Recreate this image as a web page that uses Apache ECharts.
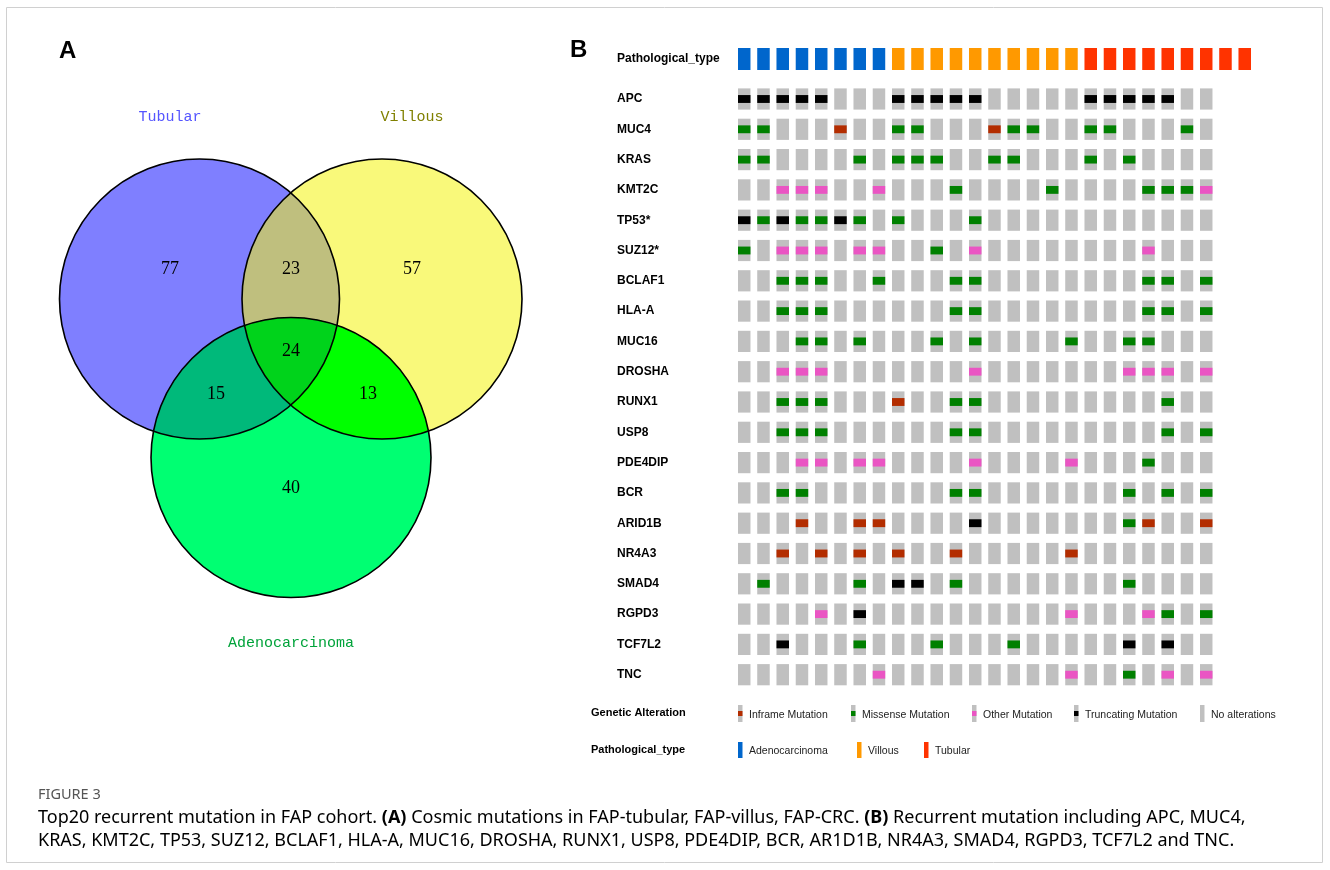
<!DOCTYPE html>
<html>
<head>
<meta charset="utf-8">
<script src="https://cdn.jsdelivr.net/npm/echarts@6/dist/echarts.min.js"></script>
<style>
html, body { margin: 0; padding: 0; background: #fff; }
#main { width: 1330px; height: 870px; }
</style>
</head>
<body>
<div id="main"></div>
<script>
// ---- panel A : venn counts ----
var vennSets = ['Tubular', 'Villous', 'Adenocarcinoma'];
var vennMasks = ['100', '010', '001', '110', '101', '011', '111'];   // membership in the 3 sets
var vennCounts = [77, 57, 40, 23, 15, 13, 24];

// ---- panel B : oncoprint ----
var genes = ['APC', 'MUC4', 'KRAS', 'KMT2C', 'TP53*', 'SUZ12*', 'BCLAF1', 'HLA-A', 'MUC16', 'DROSHA',
	'RUNX1', 'USP8', 'PDE4DIP', 'BCR', 'ARID1B', 'NR4A3', 'SMAD4', 'RGPD3', 'TCF7L2', 'TNC'];
// I inframe, M missense, O other, T truncating, . no alteration (one char per sample)
var geneAlterations = [
	'TTTTT...TTTTT.....TTTTT..',	// APC
	'MM...I..MM...IMM..MM...M.',	// MUC4
	'MM....M.MMM..MM...M.M....',	// KRAS
	'..OOO..O...M....M....MMMO',	// KMT2C
	'TMTMMTM.M...M............',	// TP53
	'M.OOO.OO..M.O........O...',	// SUZ12
	'..MMM..M...MM........MM.M',	// BCLAF1
	'..MMM......MM........MM.M',	// HLA-A
	'...MM.M...M.M....M..MM...',	// MUC16
	'..OOO.......O.......OOO.O',	// DROSHA
	'..MMM...I..MM.........M..',	// RUNX1
	'..MMM......MM.........M.M',	// USP8
	'...OO.OO....O....O...M...',	// PDE4DIP
	'..MM.......MM.......M.M.M',	// BCR
	'...I..II....T.......MI..I',	// ARID1B
	'..I.I.I.I..I.....I.......',	// NR4A3
	'.M....M.TT.M........M....',	// SMAD4
	'....O.T..........O...OM.M',	// RGPD3
	'..T...M...M...M.....T.T..',	// TCF7L2
	'.......O.........O..M.O.O'		// TNC
];
// A adenocarcinoma, V villous, T tubular
var pathTypeCodes = 'AAAAAAAAVVVVVVVVVVTTTTTTTTT';

var altCodes = ['I', 'M', 'O', 'T', '.'];
var altNames = ['Inframe Mutation', 'Missense Mutation', 'Other Mutation', 'Truncating Mutation', 'No alterations'];
var altColors = ['#b32d00', '#008000', '#ea55c3', '#000000', null];
var pathCodes = ['A', 'V', 'T'];
var pathNames = ['Adenocarcinoma', 'Villous', 'Tubular'];
var pathColors = ['#0066cc', '#ff9900', '#ff3300'];

var chart = echarts.init(document.getElementById('main'));

// ---------- venn geometry ----------
var vennLayout = {
	circles: [{ x: 199.5, y: 299, r: 140 }, { x: 382, y: 299, r: 140 }, { x: 291, y: 457.5, r: 140 }],
	setLabelPos: [[170, 117], [412, 117], [291, 643]],
	setLabelColor: ['#5555ff', '#808000', '#00a33a'],
	countPos: { '100': [170, 269], '010': [412, 269], '001': [291, 488], '110': [291, 269], '101': [216, 394], '011': [368, 394], '111': [291, 351] },
	fill: { '100': '#7f7fff', '010': '#f9f97a', '001': '#00ff72', '110': '#bfbf7e', '101': '#00b97a', '011': '#00ff00', '111': '#00d31b' }
};

function circlePts(c) {
	var pts = [];
	for (var i = 0; i < 240; i++) {
		var t = i / 240 * Math.PI * 2;
		pts.push([c.x + c.r * Math.cos(t), c.y + c.r * Math.sin(t)]);
	}
	return pts;
}
function crossAt(s, e, a, b) {
	var dx1 = e[0] - s[0], dy1 = e[1] - s[1], dx2 = b[0] - a[0], dy2 = b[1] - a[1];
	var t = ((a[0] - s[0]) * dy2 - (a[1] - s[1]) * dx2) / (dx1 * dy2 - dy1 * dx2);
	return [s[0] + t * dx1, s[1] + t * dy1];
}
// clip convex polygon by convex polygon
function clipPoly(subject, clipper) {
	var out = subject;
	for (var i = 0; i < clipper.length && out.length; i++) {
		var a = clipper[i], b = clipper[(i + 1) % clipper.length];
		var inside = function (p) { return (b[0] - a[0]) * (p[1] - a[1]) - (b[1] - a[1]) * (p[0] - a[0]) >= 0; };
		var inp = out; out = [];
		var s = inp[inp.length - 1];
		for (var j = 0; j < inp.length; j++) {
			var e = inp[j];
			if (inside(e)) {
				if (!inside(s)) out.push(crossAt(s, e, a, b));
				out.push(e);
			} else if (inside(s)) {
				out.push(crossAt(s, e, a, b));
			}
			s = e;
		}
	}
	return out;
}

var graphics = [];
var polys = vennLayout.circles.map(circlePts);
// single sets first, then overlaps painted on top
var drawOrder = ['100', '010', '001', '110', '101', '011', '111'];
drawOrder.forEach(function (mask) {
	var pts = null;
	for (var k = 0; k < 3; k++) {
		if (mask[k] === '1') pts = pts ? clipPoly(pts, polys[k]) : polys[k];
	}
	graphics.push({ type: 'polygon', shape: { points: pts }, style: { fill: vennLayout.fill[mask] }, silent: true });
});
vennLayout.circles.forEach(function (c) {
	graphics.push({ type: 'circle', shape: { cx: c.x, cy: c.y, r: c.r }, style: { fill: null, stroke: '#000', lineWidth: 1.6 }, silent: true });
});
vennMasks.forEach(function (mask, i) {
	var p = vennLayout.countPos[mask];
	graphics.push({ type: 'text', x: p[0], y: p[1], style: { text: String(vennCounts[i]), fill: '#000', font: '18px "Liberation Serif"', align: 'center', verticalAlign: 'middle' } });
});
vennSets.forEach(function (name, i) {
	var p = vennLayout.setLabelPos[i];
	graphics.push({ type: 'text', x: p[0], y: p[1], style: { text: name, fill: vennLayout.setLabelColor[i], font: '15px "Liberation Mono"', align: 'center', verticalAlign: 'middle' } });
});

// panel letters
graphics.push({ type: 'text', x: 59, y: 51, style: { text: 'A', fill: '#000', font: 'bold 24px "Liberation Sans"', verticalAlign: 'middle' } });
graphics.push({ type: 'text', x: 570, y: 50, style: { text: 'B', fill: '#000', font: 'bold 24px "Liberation Sans"', verticalAlign: 'middle' } });

// legends of panel B
graphics.push({ type: 'text', x: 591, y: 713, style: { text: 'Genetic Alteration', fill: '#000', font: 'bold 11px "Liberation Sans"', verticalAlign: 'middle' } });
graphics.push({ type: 'text', x: 591, y: 750, style: { text: 'Pathological_type', fill: '#000', font: 'bold 11px "Liberation Sans"', verticalAlign: 'middle' } });
var altLegendX = [738, 851, 972, 1074, 1200];
altNames.forEach(function (name, i) {
	var x = altLegendX[i];
	graphics.push({ type: 'rect', shape: { x: x, y: 705, width: 4.5, height: 17 }, style: { fill: '#c0c0c0' } });
	if (altColors[i]) graphics.push({ type: 'rect', shape: { x: x, y: 711, width: 4.5, height: 5 }, style: { fill: altColors[i] } });
	graphics.push({ type: 'text', x: x + 11, y: 715, style: { text: name, fill: '#222', font: '10.5px "Liberation Sans"', verticalAlign: 'middle' } });
});
var pathLegendX = [738, 857, 924];
pathNames.forEach(function (name, i) {
	var x = pathLegendX[i];
	graphics.push({ type: 'rect', shape: { x: x, y: 742, width: 4.5, height: 16 }, style: { fill: pathColors[i] } });
	graphics.push({ type: 'text', x: x + 11, y: 751, style: { text: name, fill: '#222', font: '10.5px "Liberation Sans"', verticalAlign: 'middle' } });
});

// frame + caption
graphics.push({ type: 'rect', shape: { x: 6.5, y: 7.5, width: 1316, height: 855 }, style: { fill: null, stroke: '#d0d0d0', lineWidth: 1 }, silent: true });
graphics.push({ type: 'text', x: 38, y: 795, style: { text: 'FIGURE 3', fill: '#555', font: '14.5px "Noto Sans"', verticalAlign: 'middle' } });
var capRich = {
	n: { fontFamily: 'Noto Sans', fontSize: 18, color: '#4d4d4d' },
	b: { fontFamily: 'Noto Sans', fontSize: 18, fontWeight: 'bold', color: '#4d4d4d' }
};
graphics.push({ type: 'text', x: 38, y: 818, style: { text: '{n|Top20 recurrent mutation in FAP cohort. }{b|(A)}{n| Cosmic mutations in FAP-tubular, FAP-villus, FAP-CRC. }{b|(B)}{n| Recurrent mutation including APC, MUC4,}', rich: capRich, verticalAlign: 'middle' } });
graphics.push({ type: 'text', x: 38, y: 841, style: { text: '{n|KRAS, KMT2C, TP53, SUZ12, BCLAF1, HLA-A, MUC16, DROSHA, RUNX1, USP8, PDE4DIP, BCR, AR1D1B, NR4A3, SMAD4, RGPD3, TCF7L2 and TNC.}', rich: capRich, verticalAlign: 'middle' } });

// ---------- oncoprint data ----------
var samples = pathTypeCodes.split('').map(function (c, i) { return 'S' + (i + 1); });
var cellData = [];
geneAlterations.forEach(function (row, g) {
	row.split('').forEach(function (c, s) {
		cellData.push([s, g, altCodes.indexOf(c)]);
	});
});
var pathData = pathTypeCodes.split('').map(function (c, s) { return [s, 0, pathCodes.indexOf(c)]; });

var gridLeft = 734.6, gridWidth = 27 * 19.25;
var labelStyle = { fontFamily: 'Liberation Sans', fontWeight: 'bold', fontSize: 12, color: '#000', align: 'left', margin: gridLeft - 617 };

chart.setOption({
	animation: false,
	graphic: graphics,
	grid: [
		{ left: gridLeft, width: gridWidth, top: 44, height: 30, outerBoundsMode: 'none' },
		{ left: gridLeft, width: gridWidth, top: 83.85, height: 20 * 30.3, outerBoundsMode: 'none' }
	],
	xAxis: [
		{ type: 'category', gridIndex: 0, data: samples, show: false },
		{ type: 'category', gridIndex: 1, data: samples, show: false }
	],
	yAxis: [
		{ type: 'category', gridIndex: 0, data: ['Pathological_type'], axisLine: { show: false }, axisTick: { show: false }, splitLine: { show: false }, axisLabel: labelStyle },
		{ type: 'category', gridIndex: 1, data: genes, inverse: true, axisLine: { show: false }, axisTick: { show: false }, splitLine: { show: false }, axisLabel: labelStyle }
	],
	series: [
		{
			type: 'custom', xAxisIndex: 0, yAxisIndex: 0, data: pathData, silent: true,
			renderItem: function (params, api) {
				var p = api.coord([api.value(0), api.value(1)]);
				var band = api.size([1, 1]);
				var w = band[0] * 0.65, h = 22;
				return { type: 'rect', shape: { x: p[0] - w / 2, y: p[1] - h / 2, width: w, height: h }, style: { fill: pathColors[api.value(2)] } };
			}
		},
		{
			type: 'custom', xAxisIndex: 1, yAxisIndex: 1, data: cellData, silent: true,
			renderItem: function (params, api) {
				var p = api.coord([api.value(0), api.value(1)]);
				var band = api.size([1, 1]);
				var w = band[0] * 0.65, h = band[1] * 0.7, bh = band[1] * 0.26;
				var kids = [{ type: 'rect', shape: { x: p[0] - w / 2, y: p[1] - h / 2, width: w, height: h }, style: { fill: '#c0c0c0' } }];
				var col = altColors[api.value(2)];
				if (col) kids.push({ type: 'rect', shape: { x: p[0] - w / 2, y: p[1] - bh / 2, width: w, height: bh }, style: { fill: col } });
				return { type: 'group', children: kids };
			}
		}
	]
});
</script>
</body>
</html>
